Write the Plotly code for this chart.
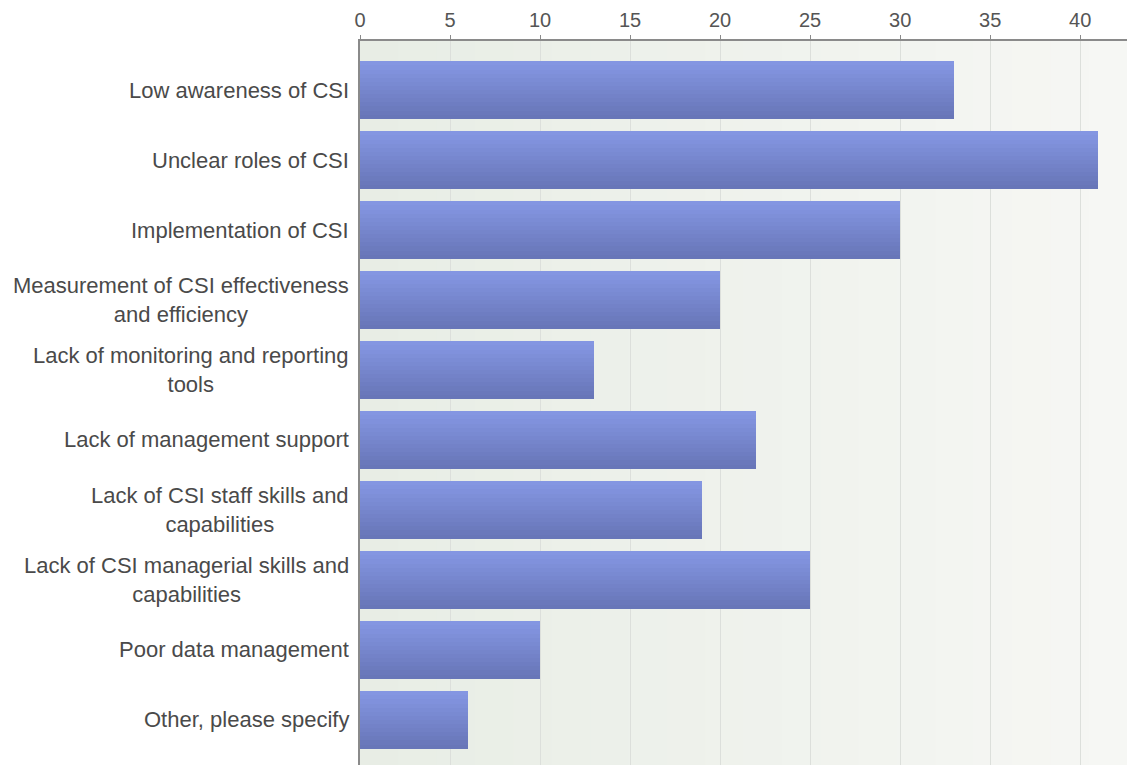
import plotly.graph_objects as go

categories = [
    "Low awareness of CSI",
    "Unclear roles of CSI",
    "Implementation of CSI",
    "Measurement of CSI effectiveness<br>and efficiency",
    "Lack of monitoring and reporting<br>tools",
    "Lack of management support",
    "Lack of CSI staff skills and<br>capabilities",
    "Lack of CSI managerial skills and<br>capabilities",
    "Poor data management",
    "Other, please specify",
]
values = [33, 41, 30, 20, 13, 22, 19, 25, 10, 6]
x_ticks = [0, 5, 10, 15, 20, 25, 30, 35, 40]

idx = list(range(len(categories)))
FONT = "Liberation Sans, Arial, sans-serif"

fig = go.Figure()

# gradient bar built from horizontal slices
N = 14
bw = 0.82
top = (132, 150, 226)
bot = (104, 118, 184)
for i in range(N):
    t = i / (N - 1)
    c = tuple(round(top[k] + (bot[k] - top[k]) * t) for k in range(3))
    fig.add_trace(go.Bar(
        x=values, y=idx, orientation="h",
        width=bw / N + 0.004, offset=-bw / 2 + i * bw / N,
        marker=dict(color="rgb(%d,%d,%d)" % c, line=dict(width=0)),
        showlegend=False, hoverinfo="x" if i == 0 else "skip",
    ))

# background gradient (left greenish -> right pale)
NB = 20
bl = (232, 237, 229)
br = (246, 247, 244)
for i in range(NB):
    t = i / (NB - 1)
    c = tuple(round(bl[k] + (br[k] - bl[k]) * t) for k in range(3))
    fig.add_shape(type="rect", xref="x domain", yref="y domain",
                  x0=i / NB, x1=(i + 1) / NB + 0.002, y0=0, y1=1,
                  fillcolor="rgb(%d,%d,%d)" % c, line=dict(width=0), layer="below")

# category labels (centered multi-line)
for i, c in enumerate(categories):
    fig.add_annotation(xref="paper", yref="y", x=0, y=i, xanchor="right",
                       xshift=-9, text=c, showarrow=False, align="center",
                       font=dict(family=FONT, size=22, color="#4a4a4a"))

fig.update_layout(
    width=1127, height=765,
    margin=dict(l=360, r=0, t=41, b=0, autoexpand=False),
    paper_bgcolor="white", plot_bgcolor="#eef1ec",
    barmode="overlay", bargap=0,
    font=dict(family=FONT, size=20, color="#555555"),
    xaxis=dict(side="top", range=[0, 42.6], tickvals=x_ticks, ticktext=[str(v) for v in x_ticks],
               showgrid=True, gridcolor="#dcdfdb", gridwidth=1, zeroline=False,
               showline=True, linecolor="#8a8a8a", linewidth=2,
               ticks="outside", ticklen=4, tickcolor="#8a8a8a", automargin=False,
               tickfont=dict(size=20, color="#555555"), fixedrange=True),
    yaxis=dict(range=[9.643, -0.7], showticklabels=False, showgrid=False, zeroline=False,
               showline=True, linecolor="#8a8a8a", linewidth=2, ticks="", automargin=False,
               fixedrange=True),
)

fig.write_html(
    "out.html",
    config={"displayModeBar": False},
    post_script="document.body.style.margin='0';document.body.style.overflow='hidden';",
)
